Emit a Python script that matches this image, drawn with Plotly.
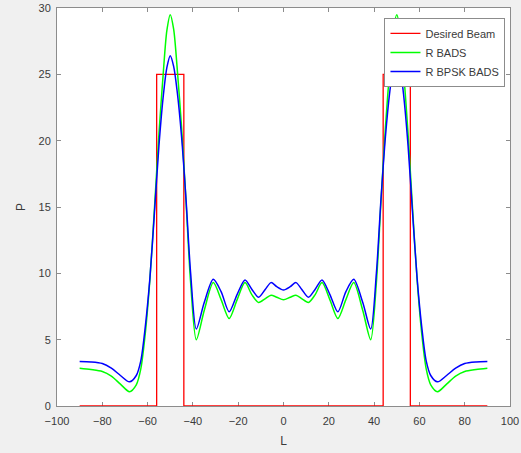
import plotly.graph_objects as go

# Desired beam (rectangular mask)
beam_x = [-90, -56, -56, -44, -44, 44, 44, 56, 56, 90]
beam_y = [0, 0, 25, 25, 0, 0, 25, 25, 0, 0]

# Sample angles for the synthesized patterns
angles = [-90, -85, -80, -76, -72, -68, -65, -63, -61, -59, -57, -55, -53, -51.5, -50,
          -48.5, -47, -45, -43, -41, -38.5, -35, -31, -27.5, -24, -20.5, -17, -14, -11,
          -8, -5.5, -3, 0, 3, 5.5, 8, 11, 14, 17, 20.5, 24, 27.5, 31, 35, 38.5, 41, 43,
          45, 47, 48.5, 50, 51.5, 53, 55, 57, 59, 61, 63, 65, 68, 72, 76, 80, 85, 90]

r_bads = [2.85, 2.75, 2.6, 2.25, 1.65, 1.08, 1.6, 2.8, 5.5, 9.5, 14.8, 20.5, 25.3, 28.3, 29.5,
          28.4, 25.6, 21.0, 15.3, 9.3, 5.0, 7.2, 9.3, 8.0, 6.6, 8.0, 9.3, 8.4, 7.8,
          8.1, 8.35, 8.2, 8.0, 8.2, 8.35, 8.1, 7.8, 8.4, 9.3, 8.0, 6.6, 8.0, 9.3, 7.2, 5.0, 9.3, 15.3,
          21.0, 25.6, 28.4, 29.5, 28.3, 25.3, 20.5, 14.8, 9.5, 5.5, 2.8, 1.6, 1.08, 1.65, 2.25, 2.6, 2.75, 2.85]

r_bpsk_bads = [3.35, 3.32, 3.2, 2.85, 2.3, 1.82, 2.3, 3.4, 6.0, 9.6, 14.5, 19.6, 23.5, 25.5, 26.4,
               25.6, 23.8, 20.3, 15.5, 10.0, 5.8, 7.8, 9.55, 8.6, 7.1, 8.4, 9.5, 8.8, 8.2,
               8.8, 9.3, 9.0, 8.75, 9.0, 9.3, 8.8, 8.2, 8.8, 9.5, 8.4, 7.1, 8.6, 9.55, 7.8, 5.8, 10.0, 15.5,
               20.3, 23.8, 25.6, 26.4, 25.5, 23.5, 19.6, 14.5, 9.6, 6.0, 3.4, 2.3, 1.82, 2.3, 2.85, 3.2, 3.32, 3.35]

x_ticks = [-100, -80, -60, -40, -20, 0, 20, 40, 60, 80, 100]
y_ticks = [0, 5, 10, 15, 20, 25, 30]

fig = go.Figure()
fig.add_trace(go.Scatter(x=beam_x, y=beam_y, mode="lines", name="Desired Beam",
                         line=dict(color="#ff0000", width=1.3), cliponaxis=False))
fig.add_trace(go.Scatter(x=angles, y=r_bads, mode="lines", name="R BADS",
                         line=dict(color="#00ff00", width=1.5, shape="spline", smoothing=0.8)))
fig.add_trace(go.Scatter(x=angles, y=r_bpsk_bads, mode="lines", name="R BPSK BADS",
                         line=dict(color="#0000ff", width=1.5, shape="spline", smoothing=0.8)))

axis_common = dict(
    showline=True, linecolor="#8c8c8c", linewidth=1, mirror="ticks", automargin=False,
    ticks="inside", ticklen=4, tickcolor="#8c8c8c", showgrid=False, zeroline=False,
    layer="below traces",
    tickfont=dict(family="Liberation Sans, Arial, sans-serif", size=11, color="#3a3a3a"),
)

fig.update_layout(
    width=521, height=453,
    margin=dict(l=57, r=11, t=8, b=47),
    paper_bgcolor="#f0f0f0", plot_bgcolor="#ffffff",
    font=dict(family="Liberation Sans, Arial, sans-serif", size=11, color="#3a3a3a"),
    showlegend=True,
    legend=dict(x=0.99, y=0.975, xanchor="right", yanchor="top",
                bgcolor="#ffffff", bordercolor="#8c8c8c", borderwidth=1,
                font=dict(size=11, color="#3a3a3a"), tracegroupgap=0,
                itemwidth=30),
    xaxis=dict(range=[-100, 100], tickvals=x_ticks, ticklabelstandoff=5,
               title=dict(text="L", standoff=10, font=dict(size=12)), **axis_common),
    yaxis=dict(range=[0, 30], tickvals=y_ticks, ticklabelstandoff=3,
               title=dict(text="P", standoff=10, font=dict(size=12)), **axis_common),
)

fig.write_html("out.html", config={"displayModeBar": False},
               post_script="document.body.style.margin='0px';")
